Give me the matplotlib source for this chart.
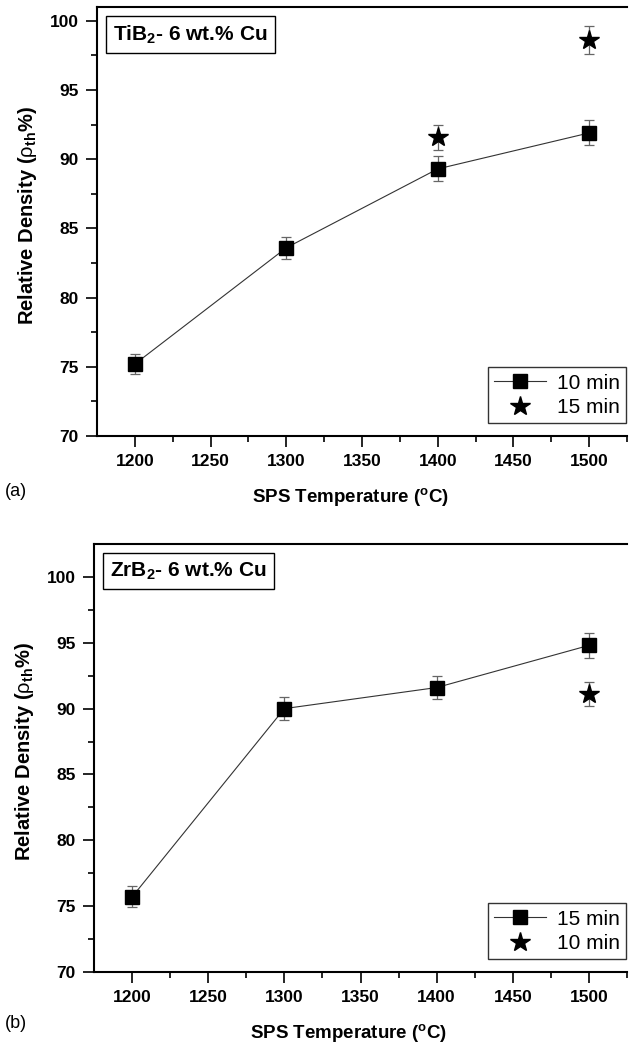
import matplotlib
matplotlib.use("Agg")
import matplotlib.pyplot as plt

plt.rcParams['font.family'] = ['Liberation Sans', 'DejaVu Sans']
plt.rcParams['mathtext.fontset'] = 'custom'
plt.rcParams['mathtext.rm'] = 'Liberation Sans'
plt.rcParams['mathtext.bf'] = 'Liberation Sans:bold'
plt.rcParams['mathtext.it'] = 'Liberation Sans:italic'

# data
temps = [1200, 1300, 1400, 1500]

# panel (a) TiB2 - 6 wt.% Cu
a_10min = [75.2, 83.6, 89.3, 91.9]
a_10min_err = [0.75, 0.8, 0.9, 0.9]
a_15min_t = [1400, 1500]
a_15min = [91.6, 98.6]
a_15min_err = [0.9, 1.0]

# panel (b) ZrB2 - 6 wt.% Cu
b_15min = [75.7, 90.0, 91.6, 94.8]
b_15min_err = [0.8, 0.85, 0.9, 0.95]
b_10min_t = [1500]
b_10min = [91.1]
b_10min_err = [0.9]

fig = plt.figure(figsize=(6.29, 10.43), dpi=100)
ax1 = fig.add_axes([97/629, 1-436/1043, 530/629, 429/1043])
ax2 = fig.add_axes([94/629, 1-972/1043, 533/629, 428/1043])


def draw(ax, title, line_y, line_err, line_lab, st_x, st_y, st_err, st_lab, ylim):
    ax.errorbar(temps, line_y, yerr=line_err, fmt='none', ecolor='#666666',
                elinewidth=0.9, capsize=3.5, capthick=0.9, zorder=2)
    ax.errorbar(st_x, st_y, yerr=st_err, fmt='none', ecolor='#666666',
                elinewidth=0.9, capsize=3.5, capthick=0.9, zorder=2)
    ax.plot(temps, line_y, color='#333333', lw=0.8, marker='s', ms=9.5,
            mfc='black', mec='black', label=line_lab, zorder=3)
    ax.plot(st_x, st_y, ls='none', marker='*', ms=15, color='black',
            label=st_lab, zorder=3)
    ax.set_xlim(1175, 1522)
    ax.set_ylim(*ylim)
    ax.set_xticks([1200, 1250, 1300, 1350, 1400, 1450, 1500])
    ax.set_xticks([1225, 1275, 1325, 1375, 1425, 1475, 1525], minor=True)
    ax.set_yticks([70, 75, 80, 85, 90, 95, 100])
    ax.set_yticks([72.5, 77.5, 82.5, 87.5, 92.5, 97.5], minor=True)
    ax.tick_params(which='major', direction='out', length=8, width=1.2,
                   labelsize=12.5, pad=5)
    ax.tick_params(which='minor', direction='out', length=4, width=1.2)
    for lab in ax.get_xticklabels() + ax.get_yticklabels():
        lab.set_fontweight('bold')
    ax.spines['right'].set_visible(False)
    for s in ['left', 'bottom', 'top']:
        ax.spines[s].set_linewidth(1.5)
    ax.set_xlabel(r'SPS Temperature ($\mathbf{^{o}}$C)', fontsize=13.5,
                  fontweight='bold', labelpad=12)
    ax.set_ylabel(r'Relative Density ($\mathrm{\rho}_{\mathbf{th}}$%)', fontsize=14.5,
                  fontweight='bold', labelpad=8)
    ax.xaxis.label.set_x(0.478)
    ax.yaxis.label.set_y(0.515)
    ax.text(0.03, 0.962, title, transform=ax.transAxes, fontsize=15,
            fontweight='bold', va='top', ha='left',
            bbox=dict(boxstyle='square,pad=0.35', fc='white', ec='black', lw=1))
    leg = ax.legend(loc='lower right', fontsize=15, frameon=True, fancybox=False,
                    edgecolor='black', handlelength=2.5, borderpad=0.3,
                    labelspacing=0.25, handletextpad=0.5, borderaxespad=0,
                    bbox_to_anchor=(0.998, 0.03))
    leg.get_frame().set_linewidth(1.0)


draw(ax1, r'TiB$_\mathbf{2}$- 6 wt.% Cu', a_10min, a_10min_err, '10 min',
     a_15min_t, a_15min, a_15min_err, '15 min', (70, 101))
draw(ax2, r'ZrB$_\mathbf{2}$- 6 wt.% Cu', b_15min, b_15min_err, '15 min',
     b_10min_t, b_10min, b_10min_err, '10 min', (70, 102.5))

fig.text(5/629, 1-491/1043, '(a)', fontsize=13, va='center')
fig.text(5/629, 1-1024/1043, '(b)', fontsize=13, va='center')

fig.savefig('out.png', dpi=100)
